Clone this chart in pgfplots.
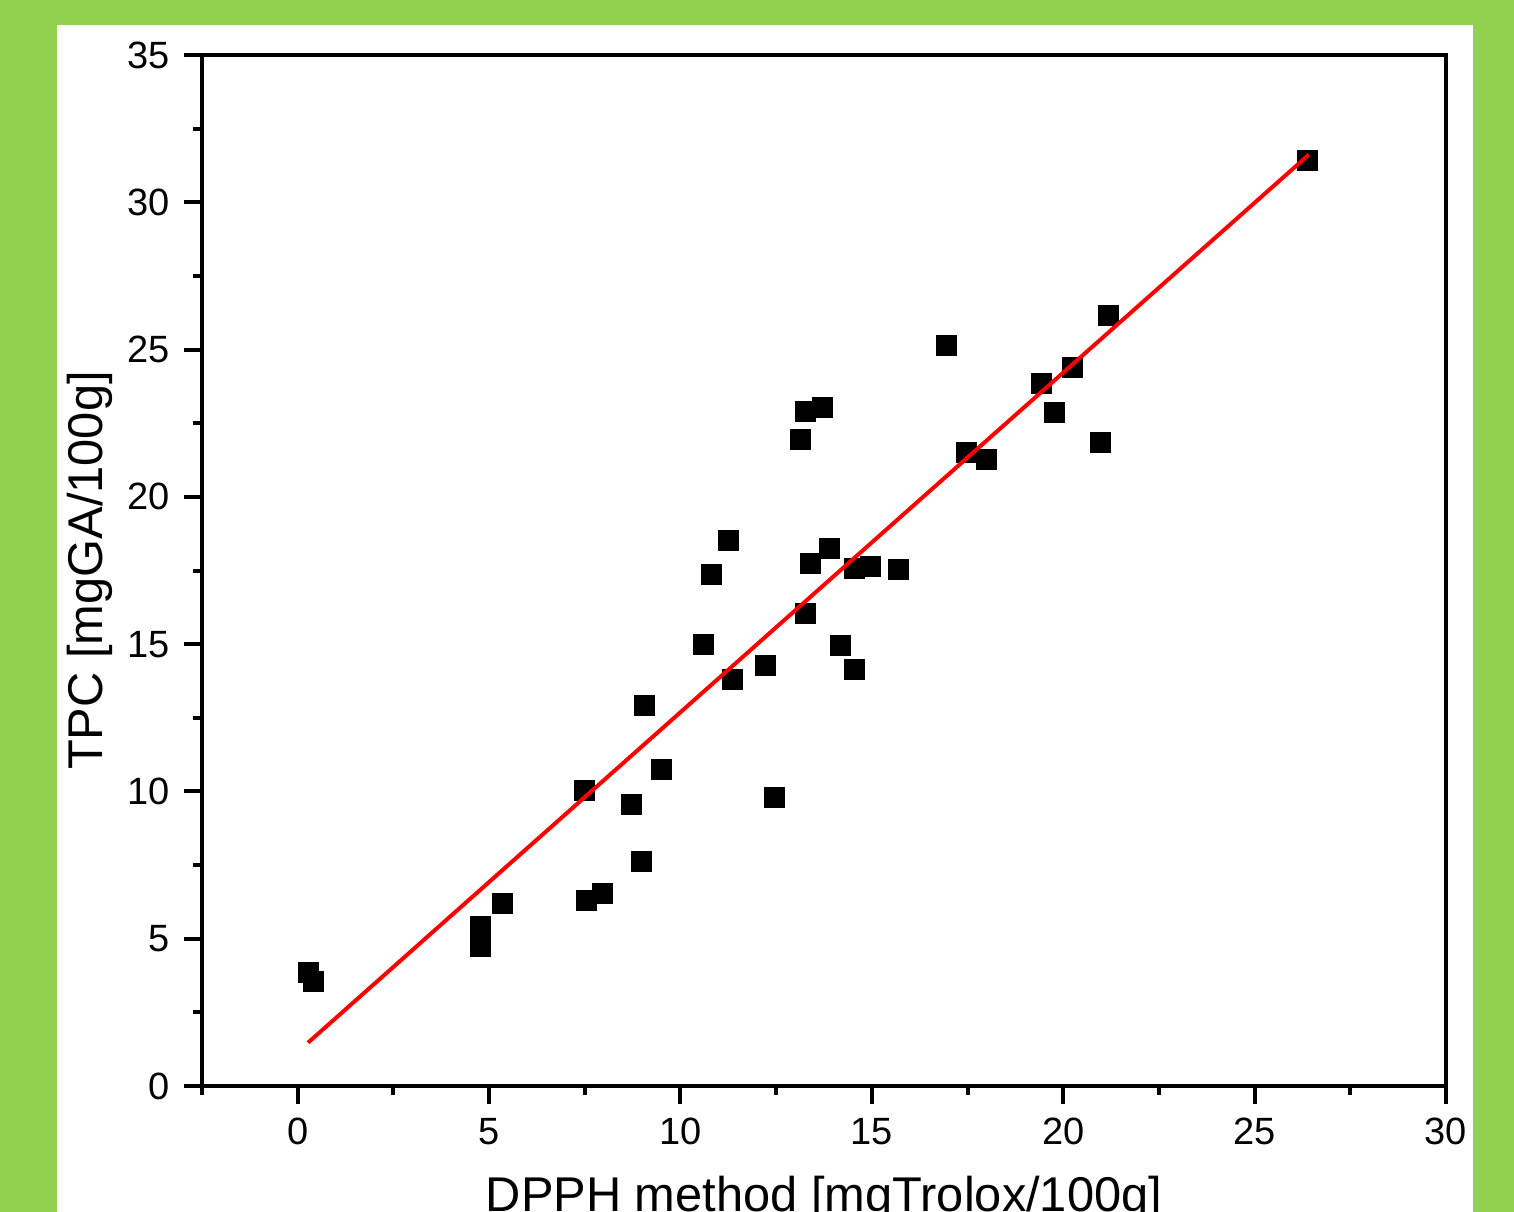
\documentclass[border=0pt]{standalone}
\usepackage{pgfplots}
\pgfplotsset{compat=1.18}
\usepackage{fontspec}
\setmainfont{Liberation Sans}
\definecolor{bggreen}{RGB}{146,208,80}
\definecolor{fitred}{RGB}{255,0,0}
\begin{document}
\begin{tikzpicture}
\useasboundingbox (0,0) rectangle (378.5pt,303pt);
\fill[bggreen] (0,0) rectangle (378.5pt,303pt);
\fill[white] (14.25pt,0) rectangle (368.25pt,296.75pt);
\begin{axis}[
  at={(50.5pt,31.5pt)}, anchor=south west,
  scale only axis, width=311pt, height=257.75pt,
  xmin=-2.5, xmax=30, ymin=0, ymax=35,
  xtick={0,5,...,30}, minor xtick={-2.5,2.5,...,27.5},
  ytick={0,5,...,35}, minor ytick={2.5,7.5,...,32.5},
  xtick pos=left, ytick pos=left,
  tick align=outside,
  major tick length=4.5pt, minor tick length=2.25pt,
  axis line style={line width=1pt},
  every tick/.style={line width=1pt, black},
  every minor tick/.style={line width=1pt, black},
  /pgf/number format/assume math mode=true,
  tick label style={font=\fontsize{9.5}{11}\selectfont},
  xlabel={DPPH method [mgTrolox/100g]},
  ylabel={TPC [mgGA/100g]},
  label style={font=\fontsize{12.2}{14}\selectfont},
  xlabel style={at={(axis description cs:0.5,-0.1222)}, anchor=base},
  ylabel style={at={(axis description cs:-0.0796,0.5)}, anchor=base},
  clip=false,
  clip marker paths=true,
]
\addplot[only marks, mark=square*, mark size=2.5pt, mark options={fill=black, draw=black, line width=0.2pt}] table {
x y
0.29 3.84
0.42 3.56
4.78 5.43
4.78 4.75
5.36 6.21
7.50 10.05
7.55 6.31
7.97 6.55
8.73 9.57
8.99 7.64
9.07 12.93
9.51 10.76
10.61 15.00
10.82 17.38
11.24 18.53
11.37 13.82
12.23 14.29
12.46 9.81
13.14 21.96
13.27 22.91
13.27 16.06
13.40 17.75
13.72 23.05
13.88 18.26
14.19 14.97
14.55 17.58
14.55 14.15
14.95 17.65
15.70 17.55
16.96 25.15
17.48 21.52
17.98 21.28
19.44 23.86
19.78 22.88
20.25 24.41
20.96 21.86
21.17 26.17
26.39 31.43
};
\addplot[fitred, line width=1pt, no marks] coordinates {(0.27,1.47) (26.42,31.62)};
\end{axis}
\end{tikzpicture}
\end{document}
